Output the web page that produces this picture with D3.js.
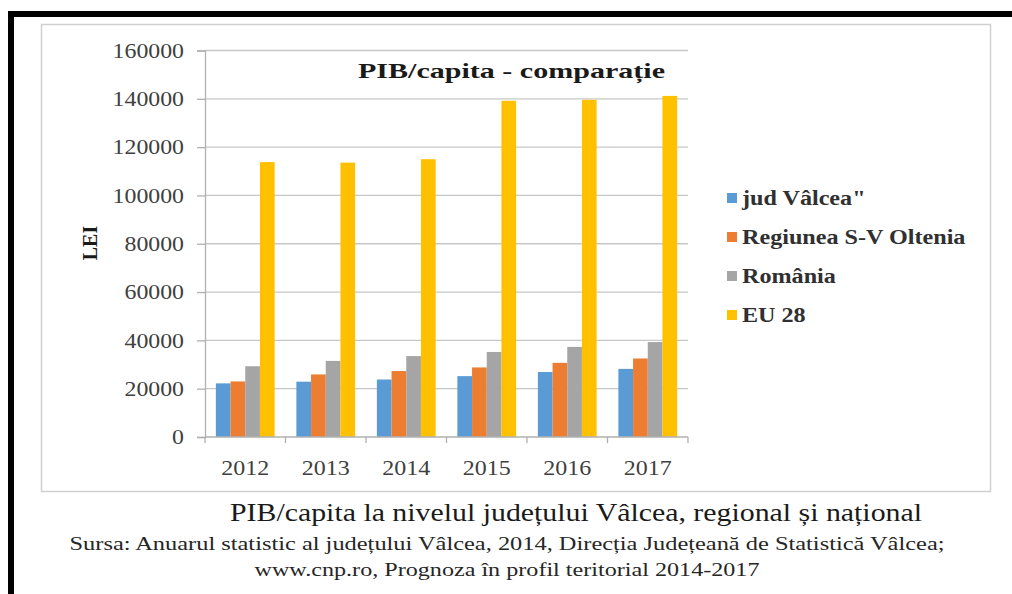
<!DOCTYPE html>
<html>
<head>
<meta charset="utf-8">
<script src="https://cdn.jsdelivr.net/npm/d3@7"></script>
<style>
  html, body { margin: 0; padding: 0; background: #fff; }
  svg { display: block; }
</style>
</head>
<body>
<svg id="chart" width="1012" height="594"></svg>
<script>
// ---- data ----
const years = ["2012", "2013", "2014", "2015", "2016", "2017"];
const seriesNames = ["jud Vâlcea\"", "Regiunea S-V Oltenia", "România", "EU 28"];
const judValcea = [22200, 22900, 23800, 25200, 26900, 28200];
const regiuneaSV = [23000, 25900, 27300, 28800, 30700, 32500];
const romania = [29300, 31500, 33500, 35200, 37300, 39300];
const eu28 = [113800, 113600, 115000, 139200, 139600, 141200];
const yTicks = [0, 20000, 40000, 60000, 80000, 100000, 120000, 140000, 160000];
const colors = ["#5B9BD5", "#ED7D31", "#A5A5A5", "#FFC000"];
const titleText = "PIB/capita - comparație";
const yLabel = "LEI";
const captionLines = [
  "PIB/capita la nivelul județului Vâlcea, regional și național",
  "Sursa: Anuarul statistic al județului Vâlcea, 2014, Direcția Județeană de Statistică Vâlcea;",
  "www.cnp.ro, Prognoza în profil teritorial 2014-2017"
];

const seriesValues = [judValcea, regiuneaSV, romania, eu28];

const svg = d3.select("#chart");
const serif = "'Liberation Serif', 'Times New Roman', serif";

// black frame (top and left)
svg.append("rect").attr("x", 8).attr("y", 11).attr("width", 1004).attr("height", 6).attr("fill", "#000");
svg.append("rect").attr("x", 8).attr("y", 11).attr("width", 6).attr("height", 583).attr("fill", "#000");

// chart box
svg.append("rect").attr("x", 41.5).attr("y", 24.5).attr("width", 949).attr("height", 467)
  .attr("fill", "#fff").attr("stroke", "#d0d0d0").attr("stroke-width", 1.5);

const plot = { left: 205, right: 688, top: 50.5, bottom: 437 };

const x0 = d3.scaleBand().domain(years).range([plot.left, plot.right])
  .paddingInner(0.27).paddingOuter(0.135);
const x1 = d3.scaleBand().domain(d3.range(seriesNames.length)).range([0, x0.bandwidth()]);
const y = d3.scaleLinear().domain([0, 160000]).range([plot.bottom, plot.top]);

// gridlines
svg.append("g").selectAll("line").data(yTicks.filter(d => d > 0)).join("line")
  .attr("x1", plot.left).attr("x2", plot.right)
  .attr("y1", d => y(d)).attr("y2", d => y(d))
  .attr("stroke", "#c8c8c8").attr("stroke-width", 1.3);

// y axis
const yAxis = d3.axisLeft(y).tickValues(yTicks).tickSize(8).tickPadding(13).tickFormat(d3.format("d"));
const gy = svg.append("g").attr("transform", `translate(${plot.left},0)`).call(yAxis);
gy.select(".domain").attr("stroke", "#b0b0b0").attr("stroke-width", 1.3);
gy.selectAll(".tick line").attr("stroke", "#b0b0b0").attr("stroke-width", 1.3);
gy.selectAll(".tick text").attr("font-family", serif).attr("font-size", 21)
  .attr("fill", "#404040").attr("textLength", d => String(d).length * 11.9)
  .attr("lengthAdjust", "spacingAndGlyphs");

// bars
const groups = svg.append("g").selectAll("g").data(years).join("g")
  .attr("transform", d => `translate(${x0(d)},0)`);
groups.selectAll("rect").data((d, i) => seriesValues.map((s, k) => ({ k, v: s[i] }))).join("rect")
  .attr("x", d => x1(d.k)).attr("width", x1.bandwidth())
  .attr("y", d => y(d.v)).attr("height", d => y(0) - y(d.v))
  .attr("fill", d => colors[d.k]);

// x axis
const edges = years.map(d => x0(d) - x0.step() * x0.paddingInner() / 2);
edges.push(plot.right);
const xAxis = d3.axisBottom(x0).tickSize(0).tickPadding(22);
const gx = svg.append("g").attr("transform", `translate(0,${plot.bottom})`).call(xAxis);
gx.select(".domain").remove();
gx.selectAll(".tick text").attr("font-family", serif).attr("font-size", 22)
  .attr("fill", "#404040").attr("textLength", 48).attr("lengthAdjust", "spacingAndGlyphs");
svg.append("line").attr("x1", plot.left).attr("x2", plot.right)
  .attr("y1", plot.bottom).attr("y2", plot.bottom).attr("stroke", "#b0b0b0").attr("stroke-width", 1.3);
svg.append("g").selectAll("line").data(edges).join("line")
  .attr("x1", d => d).attr("x2", d => d).attr("y1", plot.bottom).attr("y2", plot.bottom + 6)
  .attr("stroke", "#b0b0b0").attr("stroke-width", 1.3);

// title
svg.append("text").attr("x", 511.5).attr("y", 78).attr("text-anchor", "middle")
  .attr("font-family", serif).attr("font-weight", "bold").attr("font-size", 21)
  .attr("fill", "#1a1a1a").attr("textLength", 307).attr("lengthAdjust", "spacingAndGlyphs")
  .text(titleText);

// y label
svg.append("text").attr("transform", "translate(97,243) rotate(-90)").attr("text-anchor", "middle")
  .attr("font-family", serif).attr("font-weight", "bold").attr("font-size", 20)
  .attr("fill", "#1a1a1a").text(yLabel);

// legend
const legend = svg.append("g").selectAll("g").data(seriesNames).join("g")
  .attr("transform", (d, i) => `translate(727,${198 + i * 39})`);
legend.append("rect").attr("x", 0).attr("y", -5).attr("width", 10).attr("height", 10)
  .attr("fill", (d, i) => colors[i]);
legend.append("text").attr("transform", "translate(15,0) scale(1.15,1)").attr("dy", "0.35em")
  .attr("font-family", serif).attr("font-weight", "bold").attr("font-size", 21)
  .attr("fill", "#303030").text(d => d);

// caption
const capY = [521, 550, 576];
const capX = [576, 507, 507];
const capSize = [25, 19.5, 19.5];
const capLen = [692, 875, 505];
svg.append("g").selectAll("text").data(captionLines).join("text")
  .attr("x", (d, i) => capX[i]).attr("y", (d, i) => capY[i]).attr("text-anchor", "middle")
  .attr("font-family", serif).attr("font-size", (d, i) => capSize[i])
  .attr("fill", (d, i) => i === 0 ? "#1a1a1a" : "#262626")
  .attr("textLength", (d, i) => capLen[i]).attr("lengthAdjust", "spacingAndGlyphs")
  .text(d => d);
</script>
</body>
</html>
